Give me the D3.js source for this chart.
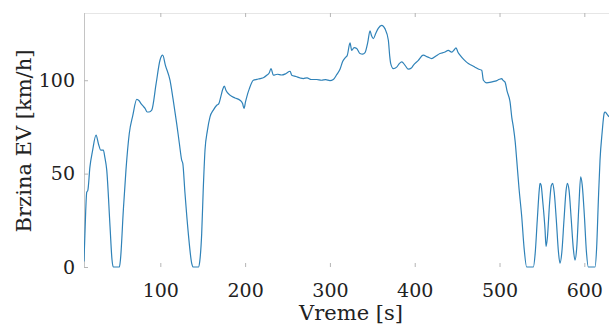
<!DOCTYPE html>
<html>
<head>
<meta charset="utf-8">
<script src="https://cdn.jsdelivr.net/npm/d3@7"></script>
<style>
body { margin: 0; background: #fff; }
text { font-family: "DejaVu Serif", "Liberation Serif", serif; fill: #222; }
</style>
</head>
<body>
<svg id="chart" width="609" height="326"></svg>
<script>
// brzina vozila kroz vreme (procitano sa slike)
var vreme = [10, 12, 13.2, 14.5, 17, 20, 24.2, 27, 29.7, 32.8, 34.5, 36.8, 40.7, 43, 44.5, 51.7, 53, 56.4, 59.5, 63.4,
  67.5, 72.2, 75, 77.2, 80, 82, 84.5, 86.7, 89.9, 95, 99.6, 102.8, 106, 111.4, 115, 119.3, 122.5, 125.2, 126.5, 129,
  133, 137, 139, 145, 146.5, 148.8, 150.5, 152.7, 155.5, 158.6, 162.5, 166.5, 169, 171.2, 173.5, 175.5, 177.5, 182.2, 188, 194,
  197, 198.7, 200.5, 201.9, 205, 209.7, 214, 217.6, 222, 225.5, 228.5, 230.5, 233.3, 238, 243, 248, 253, 255, 260, 265,
  268.6, 273, 278, 284.4, 290, 295, 300, 304, 308, 312, 315, 318, 320.5, 323.7, 325.7, 328.5, 331.6, 335.5, 338.5, 341.4,
  344.5, 347.3, 349, 351.2, 354, 357, 361, 365, 368.9, 370.5, 371.7, 374.8, 378.7, 382, 384.7, 388.6, 392.5, 396, 398.3, 404,
  410, 415, 420, 425, 429.8, 435, 439.6, 443.5, 446, 448.7, 451, 453.4, 458, 463.2, 467, 471, 475, 479, 481, 485,
  490, 495, 500, 502.6, 504, 506.5, 509, 512.4, 514.5, 516.3, 518.5, 520.3, 523, 526.2, 529, 532, 539.9, 542, 544.5, 547,
  547.8, 549, 551, 553.7, 554.8, 556.5, 559, 561, 562.7, 564.5, 567, 569.5, 571.3, 573.5, 576, 578.5, 580, 582, 584.5, 587,
  589, 591, 593.5, 595.7, 597.5, 600, 602.5, 604.7, 612.6, 614.5, 616.5, 618.5, 621, 623.5, 624.4, 626.5, 629.1];
var brzina = [3, 30, 40, 41, 53.6, 62, 70.6, 66, 62.6, 62.6, 59, 52, 21.6, 4, 0, 0, 4, 30.5, 52, 71.5,
  81, 89.7, 89, 87.5, 86, 84.9, 83, 83, 84, 98, 110.7, 113.4, 108, 100, 90, 76.8, 66, 57.2, 55.5, 40,
  18, 2, 0, 0, 3, 18, 40, 62.6, 73, 80.4, 84, 86.6, 87.5, 91, 95, 96.8, 94.5, 92, 90.5, 89.3,
  87.5, 84.9, 88.5, 91, 95.5, 100, 100.5, 100.9, 101.5, 102.7, 104, 106.2, 102.7, 103.2, 102.8, 103.5, 104.8, 102.7, 102, 101.2,
  100.9, 101.3, 100.4, 100.4, 100, 100.3, 99.8, 100.4, 103, 106, 110, 112, 113.4, 120, 116, 117.5, 117, 114.3, 114, 114.8,
  120, 126.5, 124, 122.3, 125, 127.8, 129.4, 127.5, 121.4, 113, 108.9, 106.2, 107, 109, 109.8, 108, 105.9, 106.5, 108, 110.5,
  113.4, 112.5, 111.6, 113, 114.3, 115, 116, 115, 116, 117.3, 115, 113.4, 111, 108.9, 108, 107, 106, 105.3, 100, 98.6,
  99, 99.5, 100.5, 100.9, 100, 99, 94, 88.4, 80, 75, 67, 57.2, 42, 26.9, 10, 0, 0, 7, 25, 42,
  44.8, 44, 35, 19.8, 11, 16, 34, 43.5, 44.8, 40, 25, 8, 2, 8, 25, 41, 44.8, 41, 26, 10,
  3.7, 10, 32, 48.3, 44, 28, 8, 0, 0, 10, 35, 57.2, 72, 82.5, 83, 82, 80.4];

var xTicks = [100, 200, 300, 400, 500, 600];
var yTicks = [0, 50, 100];

var data = vreme.map(function(t, i) { return {t: t, v: brzina[i]}; });

var svg = d3.select("#chart");
var pLeft = 84, pRight = 609, pTop = 13, pBottom = 267;

var x = d3.scaleLinear().domain([10, 629.1]).range([pLeft, pRight]);
var y = d3.scaleLinear().domain([0, 136]).range([pBottom, pTop]);

// okvir (svetlo sivi)
svg.append("line").attr("x1", pLeft).attr("x2", pRight).attr("y1", pTop + 0.5).attr("y2", pTop + 0.5)
  .attr("stroke", "#e6e6e6");
svg.append("line").attr("x1", pLeft + 0.5).attr("x2", pLeft + 0.5).attr("y1", pTop).attr("y2", pBottom)
  .attr("stroke", "#c4c4c4");

// x osa dole i gore, tickovi ka unutra
var xAxis = svg.append("g").attr("transform", "translate(0," + pBottom + ")")
  .call(d3.axisBottom(x).tickValues(xTicks).tickSizeInner(-4).tickSizeOuter(0).tickPadding(12));
xAxis.select(".domain").remove();
xAxis.selectAll(".tick line").attr("stroke", "#b5b5b5");
xAxis.selectAll("text").style("font-size", "19px").attr("dy", "0.95em").attr("fill", "#222");

var xTop = svg.append("g").attr("transform", "translate(0," + pTop + ")")
  .call(d3.axisTop(x).tickValues(xTicks).tickSizeInner(-4).tickSizeOuter(0).tickFormat(""));
xTop.select(".domain").remove();
xTop.selectAll(".tick line").attr("stroke", "#b5b5b5");

var yAxis = svg.append("g").attr("transform", "translate(" + pLeft + ",0)")
  .call(d3.axisLeft(y).tickValues(yTicks).tickSizeInner(-4).tickSizeOuter(0).tickPadding(9));
yAxis.select(".domain").remove();
yAxis.selectAll(".tick line").attr("stroke", "#b5b5b5");
yAxis.selectAll("text").style("font-size", "19px").attr("fill", "#222");

svg.append("clipPath").attr("id", "clip").append("rect")
  .attr("x", pLeft).attr("y", pTop - 2).attr("width", pRight - pLeft).attr("height", pBottom - pTop + 4);

var line = d3.line()
  .x(d => x(d.t))
  .y(d => y(d.v))
  .curve(d3.curveMonotoneX);

svg.append("path")
  .datum(data)
  .attr("clip-path", "url(#clip)")
  .attr("fill", "none")
  .attr("stroke", "#2f82b8")
  .attr("stroke-width", 1.2)
  .attr("d", line);

// nazivi osa
svg.append("text")
  .attr("x", 351).attr("y", 320)
  .attr("text-anchor", "middle")
  .style("font-size", "21px")
  .text("Vreme [s]");

svg.append("text")
  .attr("transform", "translate(31,141) rotate(-90)")
  .attr("text-anchor", "middle")
  .style("font-size", "21px")
  .text("Brzina EV [km/h]");
</script>
</body>
</html>
